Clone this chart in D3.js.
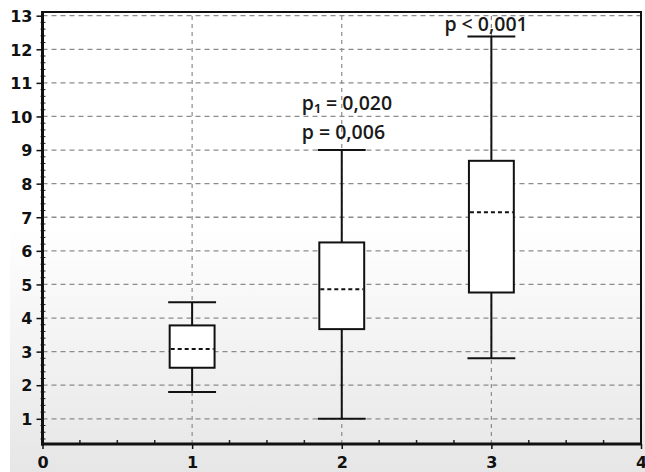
<!DOCTYPE html>
<html lang="en">
<head>
    <meta charset="UTF-8">
    <style>
        body { margin: 0; background: #fff; }
        #chart { width: 645px; height: 472px; }
    </style>
    <script src="https://d3js.org/d3.v7.min.js"></script>
</head>
<body>
    <div id="chart"></div>

    <script>
        // box plot values
        var groups = [1, 2, 3];
        var whiskerLow = [1.8, 1.0, 2.8];
        var q1 = [2.52, 3.67, 4.76];
        var medians = [3.08, 4.86, 7.15];
        var q3 = [3.78, 6.25, 8.68];
        var whiskerHigh = [4.47, 9.0, 12.38];

        var xTicks = [0, 1, 2, 3, 4];
        var yTicks = [1, 2, 3, 4, 5, 6, 7, 8, 9, 10, 11, 12, 13];

        // p-value labels; line 0 sits right above the whisker, line 1 above that
        var pGroups = [2, 2, 3];
        var pLabels = ["p = 0,006", "p\u2081 = 0,020", "p < 0,001"];
        var pLine = [0, 1, 0];

        var W = 645, H = 472;
        var margin = { top: 12, right: 4, bottom: 28, left: 42.5 };
        var plotW = W - margin.left - margin.right;
        var plotH = H - margin.top - margin.bottom;

        var svg = d3.select("#chart").append("svg")
            .attr("width", W)
            .attr("height", H);

        var defs = svg.append("defs");
        var grad = defs.append("linearGradient")
            .attr("id", "bg")
            .attr("x1", 0).attr("y1", 0).attr("x2", 0).attr("y2", 1);
        grad.append("stop").attr("offset", "0%").attr("stop-color", "#ffffff");
        grad.append("stop").attr("offset", "48%").attr("stop-color", "#ffffff");
        grad.append("stop").attr("offset", "100%").attr("stop-color", "#e6e6e6");

        svg.append("rect")
            .attr("x", 10).attr("y", 0)
            .attr("width", W - 10).attr("height", H)
            .attr("fill", "url(#bg)");

        var x = d3.scaleLinear().domain([0, 4]).range([margin.left, margin.left + plotW]);
        var y = d3.scaleLinear().domain([0.25, 13.11]).range([margin.top + plotH, margin.top]);

        var g = svg.append("g");

        // grid
        g.selectAll(".hgrid")
            .data(yTicks)
            .enter().append("line")
            .attr("x1", x(0)).attr("x2", x(4))
            .attr("y1", d => y(d)).attr("y2", d => y(d))
            .attr("stroke", "#8c8c8c")
            .attr("stroke-width", 1.3)
            .attr("stroke-dasharray", "5,4");

        g.selectAll(".vgrid")
            .data(groups)
            .enter().append("line")
            .attr("x1", d => x(d)).attr("x2", d => x(d))
            .attr("y1", y.range()[0]).attr("y2", y.range()[1])
            .attr("stroke", "#8c8c8c")
            .attr("stroke-width", 1.2)
            .attr("stroke-dasharray", "4,4");

        function styleLabels(sel) {
            sel.attr("font-family", "'DejaVu Sans', Verdana, sans-serif")
                .attr("font-weight", "bold")
                .attr("font-size", 16)
                .attr("fill", "#111");
        }

        // axes
        var yAxis = d3.axisLeft(y).tickValues(yTicks).tickFormat(d3.format("d")).tickSize(6).tickPadding(4);
        var yAxisG = svg.append("g")
            .attr("transform", "translate(" + x(0) + ",0)")
            .call(yAxis);
        yAxisG.select(".domain").remove();
        yAxisG.selectAll(".tick line").attr("stroke", "#111").attr("stroke-width", 1.5);
        yAxisG.selectAll(".tick text").call(styleLabels).attr("dy", "0.36em");

        var yMinor = d3.range(0.4, 13.11, 0.2).filter(v => Math.abs(v - Math.round(v)) > 0.05);
        svg.append("g").selectAll("line")
            .data(yMinor)
            .enter().append("line")
            .attr("x1", x(0) - 2).attr("x2", x(0) + 3)
            .attr("y1", d => y(d)).attr("y2", d => y(d))
            .attr("stroke", "#222")
            .attr("stroke-width", 1);

        var xAxis = d3.axisBottom(x).tickValues(xTicks).tickFormat(d3.format("d")).tickSize(5).tickPadding(11);
        var xAxisG = svg.append("g")
            .attr("transform", "translate(0," + y(0.25) + ")")
            .call(xAxis);
        xAxisG.select(".domain").remove();
        xAxisG.selectAll(".tick line").attr("stroke", "#111").attr("stroke-width", 1.5);
        xAxisG.selectAll(".tick text").call(styleLabels).attr("dy", "0.5em");

        var xMinor = d3.range(0.25, 4, 0.25).filter(v => Math.abs(v - Math.round(v)) > 0.05);
        svg.append("g").selectAll("line")
            .data(xMinor)
            .enter().append("line")
            .attr("x1", d => x(d)).attr("x2", d => x(d))
            .attr("y1", y(0.25)).attr("y2", y(0.25) - 4)
            .attr("stroke", "#222")
            .attr("stroke-width", 1.5);

        // frame
        svg.append("line")
            .attr("x1", x(0)).attr("x2", x(4) + 1)
            .attr("y1", y(13.11)).attr("y2", y(13.11))
            .attr("stroke", "#111").attr("stroke-width", 2);
        svg.append("line")
            .attr("x1", x(4)).attr("x2", x(4))
            .attr("y1", y(13.11)).attr("y2", y(0.25))
            .attr("stroke", "#111").attr("stroke-width", 2);
        svg.append("line")
            .attr("x1", x(0)).attr("x2", x(0))
            .attr("y1", y(13.11) - 1).attr("y2", y(0.25) + 1.5)
            .attr("stroke", "#111").attr("stroke-width", 3);
        svg.append("line")
            .attr("x1", x(0) - 1.5).attr("x2", x(4) + 1)
            .attr("y1", y(0.25)).attr("y2", y(0.25))
            .attr("stroke", "#111").attr("stroke-width", 3);

        // boxes
        var boxHalf = 0.15, capHalf = 0.16;
        var boxes = svg.append("g").selectAll("g")
            .data(groups.map((grp, i) => ({
                grp: grp, lo: whiskerLow[i], q1: q1[i], med: medians[i], q3: q3[i], hi: whiskerHigh[i]
            })))
            .enter().append("g");

        boxes.append("line")
            .attr("x1", d => x(d.grp)).attr("x2", d => x(d.grp))
            .attr("y1", d => y(d.hi)).attr("y2", d => y(d.lo))
            .attr("stroke", "#111").attr("stroke-width", 2);

        boxes.append("line")
            .attr("x1", d => x(d.grp - capHalf)).attr("x2", d => x(d.grp + capHalf))
            .attr("y1", d => y(d.hi)).attr("y2", d => y(d.hi))
            .attr("stroke", "#111").attr("stroke-width", 2);

        boxes.append("line")
            .attr("x1", d => x(d.grp - capHalf)).attr("x2", d => x(d.grp + capHalf))
            .attr("y1", d => y(d.lo)).attr("y2", d => y(d.lo))
            .attr("stroke", "#111").attr("stroke-width", 2);

        boxes.append("rect")
            .attr("x", d => x(d.grp - boxHalf))
            .attr("width", d => x(d.grp + boxHalf) - x(d.grp - boxHalf))
            .attr("y", d => y(d.q3))
            .attr("height", d => y(d.q1) - y(d.q3))
            .attr("fill", "#fff")
            .attr("stroke", "#111").attr("stroke-width", 2);

        boxes.append("line")
            .attr("x1", d => x(d.grp - boxHalf) + 1).attr("x2", d => x(d.grp + boxHalf) - 1)
            .attr("y1", d => y(d.med)).attr("y2", d => y(d.med))
            .attr("stroke", "#111").attr("stroke-width", 2)
            .attr("stroke-dasharray", "4,3");

        // p-values above the upper whiskers
        var labelDx = { 2: -40, 3: -47 };
        svg.append("g").selectAll("text")
            .data(pLabels.map((t, i) => ({ text: t, grp: pGroups[i], line: pLine[i] })))
            .enter().append("text")
            .attr("font-family", "'Open Sans', sans-serif")
            .attr("font-weight", 600)
            .attr("font-size", 19.5)
            .attr("fill", "#1a1a1a")
            .attr("x", d => x(d.grp) + labelDx[d.grp])
            .attr("y", d => y(whiskerHigh[groups.indexOf(d.grp)]) - 6 - (d.grp === 2 ? 5 : 0) - d.line * 29)
            .text(d => d.text);
    </script>
</body>
</html>
